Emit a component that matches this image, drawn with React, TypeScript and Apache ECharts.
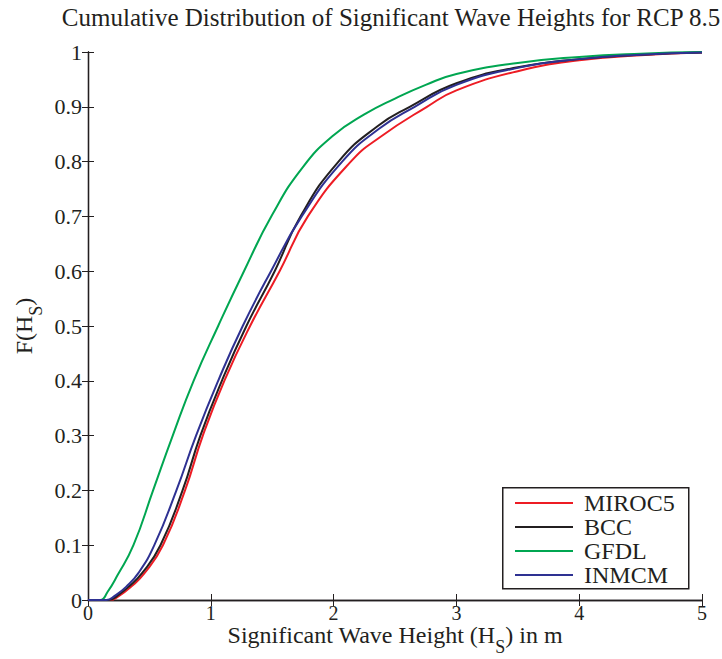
import React, { useEffect, useRef } from "react";
import * as echarts from "echarts";

// [Hs (m), F(Hs)] pairs
const miroc5: number[][] = [
  [0, 0], [0.18, 0], [0.25, 0.007], [0.35, 0.024], [0.46, 0.049], [0.61, 0.1], [0.79, 0.2],
  [0.935, 0.3], [1.11, 0.4], [1.32, 0.5], [1.56, 0.6], [1.79, 0.7], [2.14, 0.8], [2.38, 0.845],
  [2.76, 0.9], [3.0, 0.93], [3.5, 0.965], [4.0, 0.985], [4.5, 0.994], [5.0, 0.999],
];
const bcc: number[][] = [
  [0, 0], [0.17, 0], [0.24, 0.008], [0.33, 0.024], [0.44, 0.049], [0.59, 0.1], [0.77, 0.2],
  [0.915, 0.3], [1.09, 0.4], [1.29, 0.5], [1.52, 0.6], [1.73, 0.7], [2.04, 0.8], [2.36, 0.865],
  [2.62, 0.9], [3.0, 0.943], [3.5, 0.972], [4.0, 0.987], [4.5, 0.995], [5.0, 0.999],
];
const gfdl: number[][] = [
  [0, 0], [0.1, 0], [0.16, 0.015], [0.24, 0.045], [0.37, 0.1], [0.53, 0.2], [0.69, 0.3],
  [0.86, 0.4], [1.06, 0.5], [1.27, 0.6], [1.5, 0.703], [1.75, 0.79], [2.0, 0.848], [2.25, 0.886],
  [2.5, 0.915], [2.75, 0.94], [3.0, 0.96], [3.5, 0.98], [4.0, 0.991], [4.5, 0.997], [5.0, 1.0],
];
const inmcm: number[][] = [
  [0, 0], [0.15, 0], [0.22, 0.008], [0.31, 0.024], [0.41, 0.049], [0.54, 0.1], [0.72, 0.2],
  [0.88, 0.3], [1.06, 0.4], [1.26, 0.5], [1.49, 0.6], [1.74, 0.7], [2.07, 0.8], [2.37, 0.86],
  [2.66, 0.9], [3.0, 0.94], [3.5, 0.971], [4.0, 0.987], [4.5, 0.995], [5.0, 0.999],
];

const seriesNames = ["MIROC5", "BCC", "GFDL", "INMCM"];
const seriesData = [miroc5, bcc, gfdl, inmcm];
const seriesColors = ["#ED1C24", "#231F20", "#00A651", "#2E3192"];

const FONT = "'Liberation Serif', 'Times New Roman', serif";

export default function App() {
  const ref = useRef<HTMLDivElement>(null);
  useEffect(() => {
    if (!ref.current) return;
    const chart = echarts.init(ref.current, undefined, { renderer: "svg" });
    const nameRich = {
      m: { fontFamily: FONT, fontSize: 24, color: "#231F20", lineHeight: 24, verticalAlign: "top" },
      s: { fontFamily: FONT, fontSize: 18, color: "#231F20", lineHeight: 18, verticalAlign: "top", padding: [15, 0, 0, 0] },
    };
    const tickStyle = { show: true, inside: true, length: 6, lineStyle: { color: "#231F20", width: 1 } };
    const lineStyleAxis = { show: true, lineStyle: { color: "#231F20", width: 1.3 } };
    chart.setOption({
      animation: false,
      backgroundColor: "#ffffff",
      title: {
        text: "Cumulative Distribution of Significant Wave Heights for RCP 8.5",
        left: 386,
        top: 0,
        textAlign: "center",
        textStyle: { fontFamily: FONT, fontSize: 25, fontWeight: "normal", color: "#231F20" },
      },
      grid: { left: 88, right: 20, top: 52, bottom: 59, outerBoundsMode: "none", containLabel: false },
      graphic: [
        {
          type: "rect",
          left: 502,
          top: 487,
          z: 3,
          shape: { width: 186, height: 101 },
          style: { fill: "#ffffff", stroke: "#231F20", lineWidth: 1.5 },
        },
      ],
      legend: {
        data: seriesNames,
        orient: "vertical",
        left: 502,
        top: 487,
        z: 5,
        icon: "rect",
        itemWidth: 58,
        itemHeight: 2,
        itemGap: 0,
        padding: [4, 0, 3, 13],
        textStyle: { fontFamily: FONT, fontSize: 24, color: "#231F20", padding: [0, 0, 0, 6] },
      },
      xAxis: [
        {
          type: "value",
          min: 0,
          max: 5,
          interval: 1,
          position: "bottom",
          name: "{m|Significant Wave Height (H}{s|S}{m|) in m}",
          nameLocation: "middle",
          nameGap: 23,
          nameMoveOverlap: false,
          nameTextStyle: { rich: nameRich },
          axisLine: lineStyleAxis,
          axisTick: tickStyle,
          axisLabel: { fontFamily: FONT, fontSize: 20, color: "#231F20", margin: 3 },
          splitLine: { show: false },
        },
        {
          type: "value",
          min: 0,
          max: 5,
          interval: 1,
          position: "top",
          axisLine: lineStyleAxis,
          axisTick: tickStyle,
          axisLabel: { show: false },
          splitLine: { show: false },
        },
      ],
      yAxis: [
        {
          type: "value",
          min: 0,
          max: 1,
          interval: 0.1,
          position: "left",
          name: "{m|F(H}{s|S}{m|)}",
          nameLocation: "middle",
          nameGap: 52,
          nameMoveOverlap: false,
          nameTextStyle: { rich: nameRich },
          axisLine: lineStyleAxis,
          axisTick: tickStyle,
          axisLabel: { fontFamily: FONT, fontSize: 22, color: "#231F20", margin: 6 },
          splitLine: { show: false },
        },
        {
          type: "value",
          min: 0,
          max: 1,
          interval: 0.1,
          position: "right",
          axisLine: lineStyleAxis,
          axisTick: tickStyle,
          axisLabel: { show: false },
          splitLine: { show: false },
        },
      ],
      series: seriesNames.map((name, i) => ({
        name,
        type: "line",
        data: seriesData[i],
        xAxisIndex: 0,
        yAxisIndex: 0,
        showSymbol: false,
        symbol: "none",
        smooth: 0.5,
        lineStyle: { color: seriesColors[i], width: 2 },
        itemStyle: { color: seriesColors[i] },
      })),
    });
    return () => chart.dispose();
  }, []);
  return <div ref={ref} style={{ width: 722, height: 659, position: "absolute", left: 0, top: 0 }} />;
}
